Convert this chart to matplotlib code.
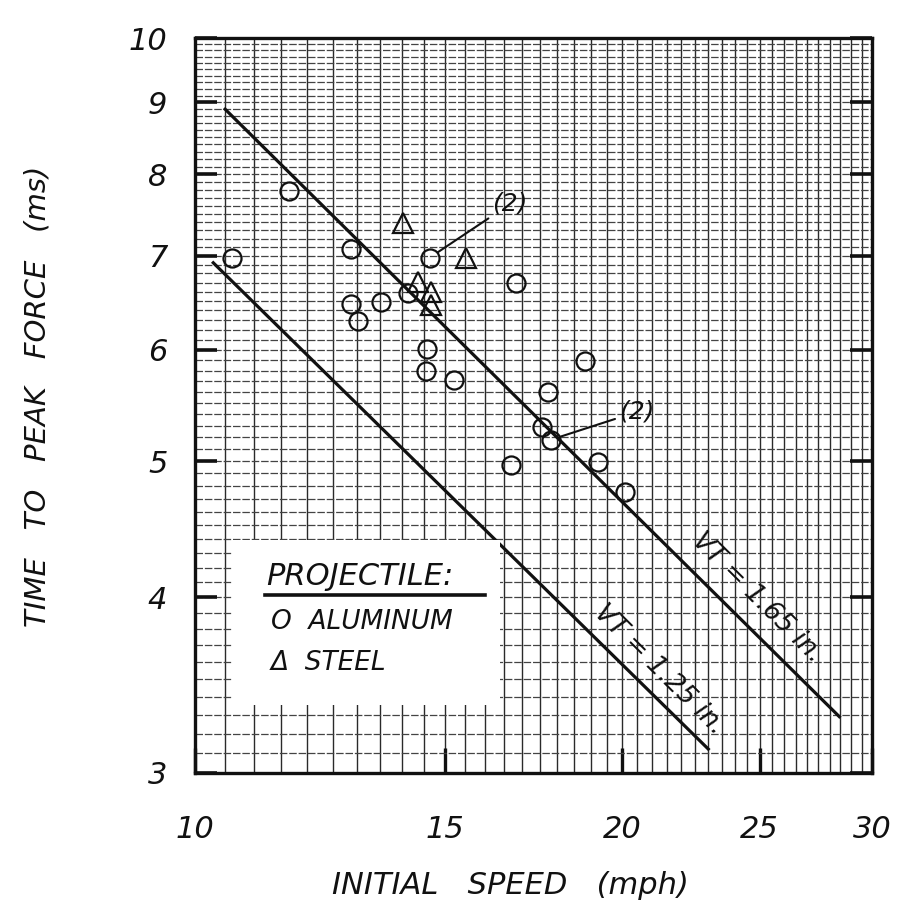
import numpy as np
import matplotlib
matplotlib.use("Agg")
import matplotlib.pyplot as plt
from matplotlib.patches import Rectangle
from matplotlib.ticker import NullFormatter, FixedLocator

# aluminium projectile (circles)
al_speed = [10.62, 11.65, 12.87, 12.87, 13.52, 13.02, 14.12, 14.64, 14.57, 14.54,
            15.22, 16.84, 18.84, 17.74, 17.57, 17.83, 16.70, 19.24, 20.08]
al_time = [6.97, 7.78, 7.08, 6.47, 6.49, 6.29, 6.59, 6.98, 6.01, 5.80,
           5.71, 6.70, 5.89, 5.60, 5.29, 5.18, 4.97, 4.99, 4.75]

# steel projectile (triangles)
st_speed = [14.01, 15.52, 14.36, 14.66, 14.66]
st_time = [7.39, 6.98, 6.71, 6.60, 6.46]

# VT = const lines (end points)
vt165_speed = [10.5, 28.45]
vt165_time = [8.90, 3.29]
vt125_speed = [10.3, 23.0]
vt125_time = [6.92, 3.12]

xticks = [10, 15, 20, 25, 30]
yticks = [3, 4, 5, 6, 7, 8, 9, 10]

ink = "#111111"
hand = dict(fontstyle="italic", color=ink, family="DejaVu Sans")

fig = plt.figure(figsize=(9.03, 9.21), dpi=100)
ax = fig.add_axes([0.216, 0.1607, 0.7497, 0.798])
ax.set_xscale("log")
ax.set_yscale("log")
ax.set_xlim(10, 30)
ax.set_ylim(3, 10)

# graph paper
ax.xaxis.set_major_locator(FixedLocator(xticks))
ax.yaxis.set_major_locator(FixedLocator(yticks))
ax.xaxis.set_minor_locator(FixedLocator(np.arange(10, 30.01, 0.5)))
ax.yaxis.set_minor_locator(FixedLocator(np.arange(3, 10.01, 0.1)))
ax.xaxis.set_minor_formatter(NullFormatter())
ax.yaxis.set_minor_formatter(NullFormatter())
ax.set_xticklabels([str(t) for t in xticks])
ax.set_yticklabels([str(t) for t in yticks])

ax.grid(which="both", axis="x", color="#2a2a2a", lw=1.0)
ax.grid(which="both", axis="y", color="#444444", lw=0.9, linestyle=(0, (6, 1.5)))
ax.set_axisbelow(True)

ax.tick_params(which="minor", length=0)
ax.tick_params(axis="y", which="major", direction="in", length=16, width=2.6,
               right=True, pad=20, labelsize=22, colors=ink)
ax.tick_params(axis="x", which="major", direction="in", length=18, width=2.4,
               pad=30, labelsize=22, colors=ink)
for lab in ax.get_xticklabels() + ax.get_yticklabels():
    lab.set_fontstyle("italic")

for sp in ax.spines.values():
    sp.set_linewidth(2.4)
    sp.set_color(ink)

# VT lines
ax.plot(vt165_speed, vt165_time, color=ink, lw=2.3, zorder=3)
ax.plot(vt125_speed, vt125_time, color=ink, lw=2.3, zorder=3)

# data
ax.plot(al_speed, al_time, linestyle="none", marker="o", markersize=13,
        markerfacecolor="none", markeredgecolor=ink, markeredgewidth=1.6, zorder=4)
ax.plot(st_speed, st_time, linestyle="none", marker="^", markersize=15,
        markerfacecolor="none", markeredgecolor=ink, markeredgewidth=1.6, zorder=4)

# line labels
ax.text(24.9, 4.0, "VT = 1.65 in.", rotation=-44.8, rotation_mode="anchor",
        ha="center", va="center", fontsize=19, zorder=5, **hand)
ax.text(21.25, 3.55, "VT = 1.25 in.", rotation=-44.8, rotation_mode="anchor",
        ha="center", va="center", fontsize=19, zorder=5, **hand)

# (2) callouts
ax.annotate("(2)", xy=(14.64, 6.98), xytext=(16.2, 7.62), ha="left", va="center",
            fontsize=18, zorder=5, **hand,
            arrowprops=dict(arrowstyle="-", color=ink, lw=1.5, shrinkA=1, shrinkB=7))
ax.annotate("(2)", xy=(17.83, 5.18), xytext=(19.9, 5.42), ha="left", va="center",
            fontsize=18, zorder=5, **hand,
            arrowprops=dict(arrowstyle="-", color=ink, lw=1.5, shrinkA=1, shrinkB=7))

# hand drawn legend box
ax.add_patch(Rectangle((0.0547, 0.0925), 0.396, 0.2245, transform=ax.transAxes,
                       facecolor="white", edgecolor="none", zorder=6))
ax.text(0.105, 0.2667, "PROJECTILE:", transform=ax.transAxes, ha="left", va="center",
        fontsize=22, zorder=7, **hand)
ax.plot([0.1034, 0.4284], [0.2422, 0.2422], transform=ax.transAxes, color=ink,
        lw=2.6, zorder=7)
ax.text(0.112, 0.2054, "O  ALUMINUM", transform=ax.transAxes, ha="left", va="center",
        fontsize=19, zorder=7, **hand)
ax.text(0.112, 0.1497, "\u0394  STEEL", transform=ax.transAxes, ha="left", va="center",
        fontsize=19, zorder=7, **hand)

# axis titles
fig.text(0.041, 0.57, "TIME   TO   PEAK   FORCE   (ms)", rotation=90, ha="center",
         va="center", fontsize=21, **hand)
fig.text(0.565, 0.039, "INITIAL   SPEED   (mph)", ha="center", va="center",
         fontsize=22, **hand)

fig.savefig("out.png", dpi=100, facecolor="white")
